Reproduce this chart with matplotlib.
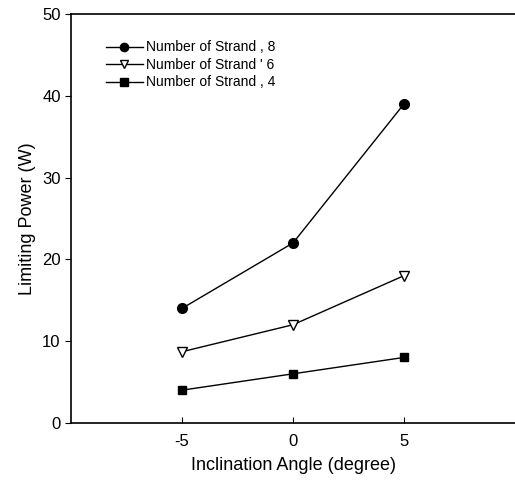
"""
Limiting power vs inclination angle
"""
import matplotlib
matplotlib.use("Agg")
import matplotlib.pyplot as plt

plt.rcParams["font.family"] = ["Liberation Sans", "DejaVu Sans"]
plt.rcParams["axes.unicode_minus"] = False

# Data
ANGLES = [-5, 0, 5]
POWER_STRAND_8 = [14.0, 22.0, 39.0]
POWER_STRAND_6 = [8.7, 12.0, 18.0]
POWER_STRAND_4 = [4.0, 6.0, 8.0]
LABELS = ["Number of Strand , 8", "Number of Strand ' 6", "Number of Strand , 4"]
X_TICKS = [-5, 0, 5]
Y_TICKS = [0, 10, 20, 30, 40, 50]

fig = plt.figure(figsize=[5.15, 4.8], dpi=100, facecolor="white")
ax = fig.add_axes([0.138, 0.119, 0.862, 0.852])

ax.plot(ANGLES, POWER_STRAND_8, color="black", lw=1, marker="o", ms=7,
        mfc="black", mec="black", label=LABELS[0])
ax.plot(ANGLES, POWER_STRAND_6, color="black", lw=1, marker="v", ms=7,
        mfc="white", mec="black", label=LABELS[1])
ax.plot(ANGLES, POWER_STRAND_4, color="black", lw=1, marker="s", ms=6,
        mfc="black", mec="black", label=LABELS[2])

ax.set_xlim(-10, 10)
ax.set_ylim(0, 50)
ax.set_xticks(X_TICKS)
ax.set_yticks(Y_TICKS)
ax.tick_params(axis="x", direction="in", length=4, labelsize=12, pad=8)
ax.tick_params(axis="y", direction="out", length=4, labelsize=12)
ax.spines["right"].set_visible(False)
for side in ["left", "bottom", "top"]:
    ax.spines[side].set_linewidth(1.2)

ax.set_xlabel("Inclination Angle (degree)", fontsize=13, labelpad=6)
ax.set_ylabel("Limiting Power (W)", fontsize=13)

ax.legend(loc="upper left", bbox_to_anchor=(0.062, 0.952), frameon=False,
          fontsize=10, handlelength=2.7, handletextpad=0.2,
          labelspacing=0.25, borderpad=0, markerscale=0.85)

fig.savefig("out.png", dpi=100)
plt.close(fig)
